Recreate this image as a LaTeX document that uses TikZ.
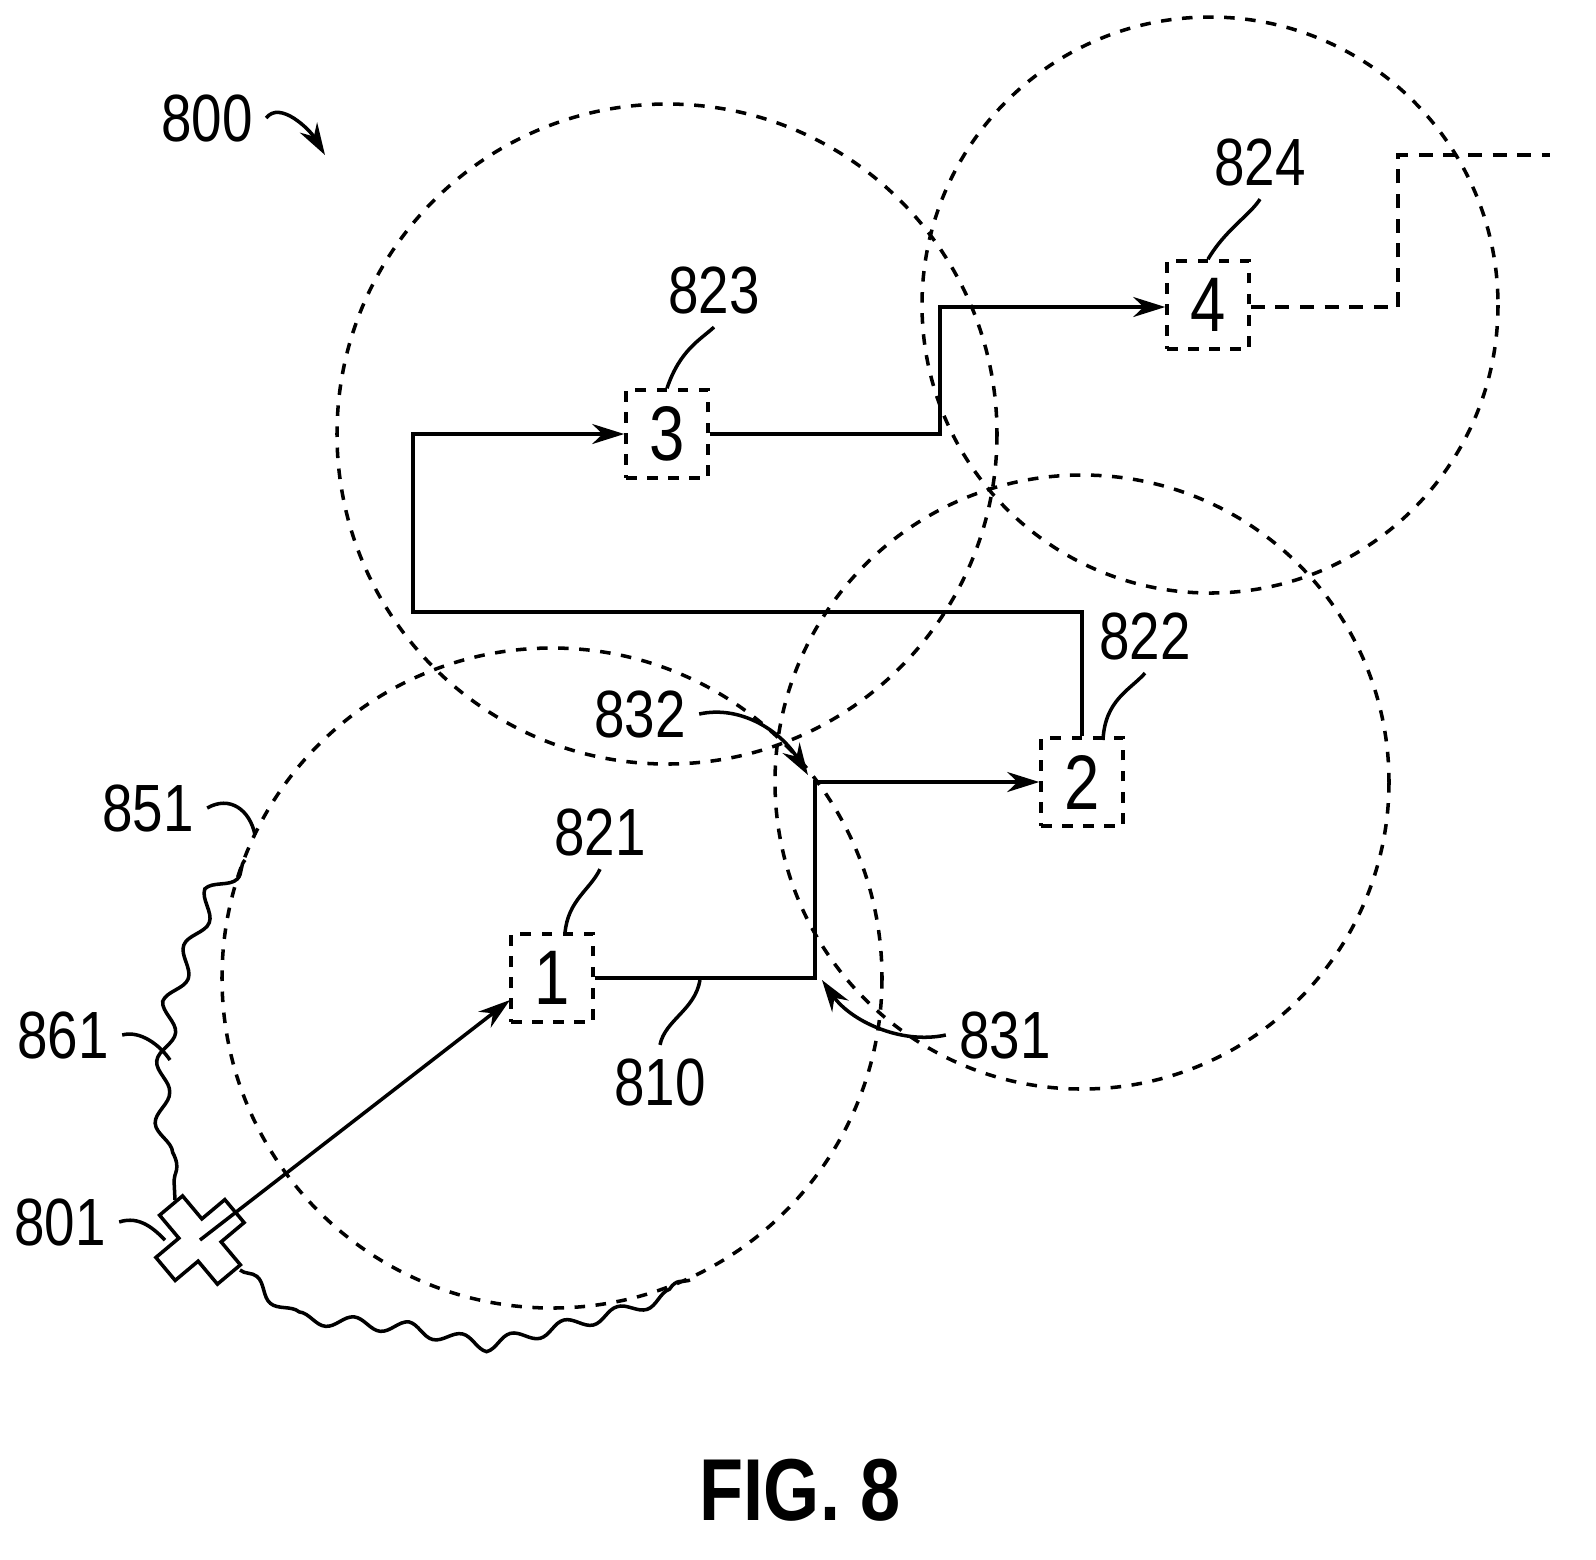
\documentclass[tikz,border=0pt]{standalone}
\usepackage{fontspec}
\setmainfont[FakeStretch=0.82]{Liberation Sans}
\usetikzlibrary{arrows.meta, decorations.pathmorphing}

\begin{document}
\begin{tikzpicture}[x=0.01cm, y=-0.01cm, line width=1pt,
    lbl/.style={font=\fontsize{19}{20}\selectfont},
    box/.style={draw, dashed, minimum width=0.82cm, minimum height=0.88cm, font=\fontsize{22}{24}\selectfont},
    zone/.style={dashed},
    link/.style={},
    tip/.style={-{Stealth[length=0.32cm, width=0.2cm]}}]

  \useasboundingbox (0,0) rectangle (1596,1559);

  % Coverage circles
  \draw[zone] (667,434) circle (330);
  \draw[zone] (1210,305) circle (288);
  \draw[zone] (1082,782) circle (307);
  \draw[zone] (552,978) circle (330);

  % Relay boxes
  \node[box] (n1) at (552,978) {1};
  \node[box] (n2) at (1082,782) {2};
  \node[box] (n3) at (667,434) {3};
  \node[box] (n4) at (1208,305) {4};

  % Start marker
  \coordinate (start) at (200,1240);
  \draw[rotate around={40:(start)}]
    (185,1195) -- (215,1195) -- (215,1225) -- (245,1225) -- (245,1255) -- (215,1255)
    -- (215,1285) -- (185,1285) -- (185,1255) -- (155,1255) -- (155,1225) -- (185,1225) -- cycle;

  % Route
  \coordinate (a1) at (510,1000);
  \draw[link, tip] (start) -- (a1);
  \coordinate (c1) at (815,978);
  \coordinate (c2) at (815,782);
  \draw[link, tip] (n1.east) -- (c1) -- (c2) -- (n2.west);
  \draw[link, tip] (n2.north) -- (1082,612) -- (413,612) -- (413,434) -- (n3.west);
  \draw[link, tip] (n3.east) -- (940,434) -- (940,307) -- (n4.west |- 0,307);
  \draw[dash pattern=on 4pt off 3pt] (n4.east |- 0,307) -- (1398,307) -- (1398,155) -- (1550,155);

  % Boundary 861
  \draw[decorate, decoration={snake, amplitude=0.08cm, segment length=0.6cm}]
    (245,860) -- (225,880) -- (180,1000) -- (170,1100) -- (175,1200);
  \draw[decorate, decoration={snake, amplitude=0.06cm, segment length=0.55cm}]
    (240,1270) -- (290,1312) -- (400,1322) -- (480,1340) -- (600,1310) -- (690,1280);

  % Labels
  \node[lbl] (l800) at (207,118) {800};
  \draw[tip] (l800.east) .. controls (280,100) and (310,130) .. (325,155);
  \node[lbl] (l823) at (714,290) {823};
  \draw (l823.south) .. controls (700,340) and (680,350) .. (n3.north);
  \node[lbl] (l824) at (1260,162) {824};
  \draw (l824.south) .. controls (1250,215) and (1225,230) .. (n4.north);
  \node[lbl] (l822) at (1145,636) {822};
  \draw (l822.south) .. controls (1130,690) and (1105,700) .. (1103,740);
  \node[lbl] (l821) at (600,832) {821};
  \draw (l821.south) .. controls (590,890) and (568,900) .. (565,933);
  \node[lbl] (l810) at (660,1082) {810};
  \draw (l810.north) .. controls (665,1020) and (695,1010) .. (700,980);
  \node[lbl] (l831) at (1005,1035) {831};
  \draw[tip] (l831.west) .. controls (900,1045) and (850,1020) .. (822,980);
  \node[lbl] (l832) at (640,714) {832};
  \draw[tip] (l832.east) .. controls (740,705) and (780,730) .. (808,775);
  \node[lbl] (l851) at (148,808) {851};
  \draw (l851.east) .. controls (230,795) and (250,810) .. (255,835);
  \node[lbl] (l861) at (63,1035) {861};
  \draw (l861.east) .. controls (140,1030) and (160,1045) .. (170,1060);
  \node[lbl] (l801) at (60,1222) {801};
  \draw (l801.east) .. controls (140,1215) and (155,1230) .. (165,1240);

  \node[font=\fontsize{25}{28}\selectfont\bfseries] (fig) at (800,1490) {FIG. 8};
\end{tikzpicture}
\end{document}
